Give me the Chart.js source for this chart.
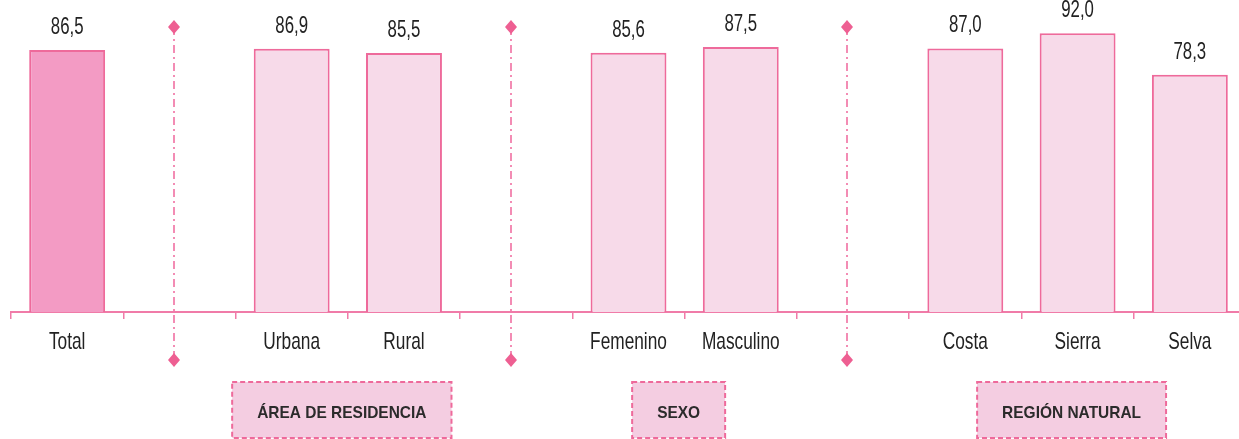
<!DOCTYPE html>
<html>
<head>
<meta charset="utf-8">
<script src="https://cdn.jsdelivr.net/npm/chart.js@4.4.1/dist/chart.umd.min.js"></script>
<style>
  html, body { margin: 0; padding: 0; background: #fff; overflow: hidden; }
  #wrap { width: 1250px; height: 439px; }
</style>
</head>
<body>
<div id="wrap"><canvas id="chart"></canvas></div>
<script>
// categories ('' = spacer between groups)
const categories = ['Total', '', 'Urbana', 'Rural', '', 'Femenino', 'Masculino', '', 'Costa', 'Sierra', 'Selva'];
const values = [86.5, null, 86.9, 85.5, null, 85.6, 87.5, null, 87.0, 92.0, 78.3];
const separatorIndex = [1, 4, 7];
const groupLabels = ['ÁREA DE RESIDENCIA', 'SEXO', 'REGIÓN NATURAL'];
const groupFrom = [2, 5, 8];
const groupTo = [3, 6, 10];

const pinkLine = '#ee6a9b';
// the original uses a narrow face; Liberation Sans squeezed sideways comes close
const fontFamily = "'Liberation Sans', Arial, sans-serif";

const fills = values.map((v, i) => i === 0 ? '#f39bc4' : '#f7dae9');

function narrowText(ctx, text, x, y, sx) {
  ctx.save();
  ctx.translate(x, y);
  ctx.scale(sx, 1);
  ctx.fillText(text, 0, 0);
  ctx.restore();
}

const decorations = {
  id: 'decorations',
  afterDraw(chart) {
    const ctx = chart.ctx;
    const x = chart.scales.x;
    const area = chart.chartArea;

    // value labels
    const meta = chart.getDatasetMeta(0);
    ctx.save();
    ctx.font = '24px ' + fontFamily;
    ctx.fillStyle = '#222';
    ctx.textAlign = 'center';
    ctx.textBaseline = 'alphabetic';
    meta.data.forEach((bar, i) => {
      if (values[i] == null) return;
      narrowText(ctx, values[i].toFixed(1).replace('.', ','), bar.x, bar.y - 16, 0.7);
    });

    // category labels
    categories.forEach((c, i) => {
      if (!c) return;
      narrowText(ctx, c, x.getPixelForValue(i), area.bottom + 37, 0.72);
    });
    ctx.restore();

    // dash-dot separators with diamonds
    const yTop = area.bottom - 285;
    const yBot = area.bottom + 48;
    separatorIndex.forEach(idx => {
      const px = Math.round(x.getPixelForValue(idx - 0.05));
      ctx.save();
      ctx.strokeStyle = '#f0679c';
      ctx.lineWidth = 1.5;
      ctx.setLineDash([8, 4, 2, 4]);
      ctx.beginPath();
      ctx.moveTo(px, yTop);
      ctx.lineTo(px, yBot);
      ctx.stroke();
      ctx.setLineDash([]);
      ctx.fillStyle = '#ee5f92';
      [yTop, yBot].forEach(cy => {
        ctx.beginPath();
        ctx.moveTo(px, cy - 7);
        ctx.lineTo(px + 6, cy);
        ctx.lineTo(px, cy + 7);
        ctx.lineTo(px - 6, cy);
        ctx.closePath();
        ctx.fill();
      });
      ctx.restore();
    });

    // group boxes
    ctx.save();
    ctx.font = 'bold 17px ' + fontFamily;
    groupLabels.forEach((label, g) => {
      const cx = (x.getPixelForValue(groupFrom[g]) + x.getPixelForValue(groupTo[g])) / 2 - 6;
      const w = ctx.measureText(label).width * 0.91 + 50;
      const top = area.bottom + 70;
      const h = 56;
      ctx.fillStyle = '#f4cde1';
      ctx.fillRect(cx - w / 2, top, w, h);
      ctx.strokeStyle = pinkLine;
      ctx.lineWidth = 2;
      ctx.setLineDash([5, 3]);
      ctx.strokeRect(cx - w / 2, top, w, h);
      ctx.setLineDash([]);
      ctx.fillStyle = '#2b2b2b';
      ctx.textAlign = 'center';
      ctx.textBaseline = 'alphabetic';
      narrowText(ctx, label, cx, top + 36, 0.91);
    });
    ctx.restore();
  }
};

new Chart(document.getElementById('chart'), {
  type: 'bar',
  data: {
    labels: categories,
    datasets: [{
      data: values,
      backgroundColor: fills,
      borderColor: pinkLine,
      borderWidth: 2,
      categoryPercentage: 1,
      barPercentage: 0.676
    }]
  },
  options: {
    responsive: true,
    maintainAspectRatio: false,
    animation: false,
    layout: { padding: { left: 11, right: 4, top: 9, bottom: 0 } },
    plugins: {
      legend: { display: false },
      tooltip: { enabled: false }
    },
    scales: {
      x: {
        afterFit(scale) { scale.height = 127; },
        border: { color: '#f07ba8', width: 2 },
        grid: {
          offset: true,
          drawOnChartArea: false,
          drawTicks: true,
          tickLength: 7,
          color: '#f07ba8',
          lineWidth: 1.5
        },
        ticks: { display: false, autoSkip: false }
      },
      y: {
        display: false,
        min: 0,
        max: 100
      }
    }
  },
  plugins: [decorations]
});
</script>
</body>
</html>
